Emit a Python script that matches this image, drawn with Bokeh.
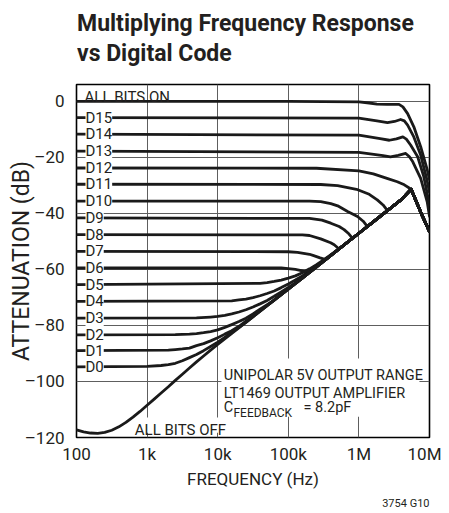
from bokeh.plotting import figure
from bokeh.layouts import column
from bokeh.models import Label, FixedTicker, Range1d, Title
from bokeh.embed import file_html
from bokeh.resources import INLINE

# ---------------- data ----------------
x_ticks = [100, 1000, 10000, 100000, 1000000, 10000000]
x_tick_labels = ["100", "1k", "10k", "100k", "1M", "10M"]
y_ticks = [-120, -100, -80, -60, -40, -20, 0]
y_tick_labels = ["–120", "–100", "–80", "–60", "–40", "–20", "0"]

# ALL BITS OFF (feedthrough)
off_freq = [100, 126, 158, 200, 251, 316, 398, 501, 631, 794, 1000, 1260, 1580, 2000, 2510,
            3160, 3980, 5010, 6310, 7940, 10000, 25100, 63100, 158000, 251000, 398000, 631000,
            1000000, 1580000, 2510000, 3980000, 5500000, 6310000, 7940000, 10000000]
off_db = [-117.3, -118.0, -118.4, -118.5, -118.2, -117.4, -116.2, -114.6, -112.7, -110.7, -108.5,
          -106.3, -104.1, -101.9, -99.6, -97.4, -95.2, -93.0, -90.9, -88.8, -86.8, -78.9, -71.0,
          -63.1, -59.1, -55.1, -51.1, -47.1, -43.1, -39.1, -35.1, -31.4, -35.0, -41.0, -46.5]

on_freq = [100, 100000, 1000000, 1400000, 1800000, 2500000, 3700000, 4200000, 4900000, 6000000, 7500000, 9300000, 10000000]
on_db = [0.0, 0.0, -0.2, -0.6, -1.0, -1.1, -1.1, -2.0, -4.4, -9.1, -16.2, -24.5, -28.0]

d15_freq = [100, 1000000, 1800000, 2540000, 3200000, 3900000, 4400000, 4900000, 6000000, 7500000, 9300000, 10000000]
d15_db = [-5.8, -6.0, -7.0, -7.6, -7.2, -6.5, -7.0, -8.5, -12.7, -19.2, -28.5, -32.5]

d14_freq = [100, 1000000, 2000000, 2700000, 3400000, 4200000, 4700000, 5400000, 6800000, 8300000, 10000000]
d14_db = [-11.7, -12.1, -13.3, -13.9, -13.4, -12.7, -13.5, -15.6, -19.8, -26.9, -37.0]

d13_freq = [100, 1000000, 2200000, 2800000, 3600000, 4600000, 5200000, 5800000, 7500000, 9300000, 10000000]
d13_db = [-17.8, -18.2, -19.4, -19.8, -19.3, -18.6, -19.8, -21.6, -27.5, -36.0, -41.0]

d12_freq = [100, 251000, 1000000, 1600000, 2500000, 3500000, 4400000, 5500000]
d12_db = [-23.8, -23.9, -24.8, -25.9, -27.5, -28.7, -29.8, -31.4]

d11_freq = [100, 288000, 500000, 923000, 1400000, 1820000, 2200000, 2540000]
d11_db = [-29.6, -29.7, -30.1, -31.4, -33.2, -35.2, -37.0, -39.0]

d10_freq = [100, 200000, 288000, 400000, 500000, 692000, 955000, 1150000, 1320000]
d10_db = [-35.6, -35.6, -35.8, -36.5, -37.3, -39.3, -41.1, -42.8, -44.7]

d9_freq = [100, 200000, 300000, 400000, 525000, 617000, 720000, 813000]
d9_db = [-41.6, -41.8, -42.4, -43.5, -44.7, -45.8, -47.3, -48.9]

d8_freq = [100, 158000, 200000, 288000, 398000, 447000, 525000]
d8_db = [-47.6, -47.7, -47.9, -49.1, -50.5, -51.2, -52.7]

d7_freq = [100, 100000, 135000, 200000, 229000, 282000, 339000]
d7_db = [-53.6, -53.7, -53.9, -54.6, -55.1, -55.9, -56.5]

d6_freq = [100, 79400, 100000, 126000, 158000, 200000]
d6_db = [-59.5, -59.5, -59.7, -60.0, -60.5, -61.1]

d5_freq = [100, 39800, 50100, 63100, 79400, 100000, 126000, 158000, 200000, 251000, 316000, 398000]
d5_db = [-65.4, -65.0, -64.7, -64.3, -63.8, -63.1, -62.3, -61.2, -59.8, -58.3, -56.6, -54.8]

d4_freq = [100, 15800, 20000, 25100, 31600, 39800, 50100, 63100, 79400, 100000, 126000, 158000, 200000, 251000]
d4_db = [-71.4, -71.2, -70.9, -70.6, -70.1, -69.4, -68.6, -67.7, -66.5, -65.2, -63.8, -62.3, -60.6, -58.9]

d3_freq = [100, 5010, 7940, 10000, 12600, 15800, 20000, 25100, 31600, 39800, 50100, 63100, 79400, 100000, 126000]
d3_db = [-77.4, -77.3, -77.0, -76.8, -76.4, -75.9, -75.2, -74.4, -73.4, -72.3, -71.1, -69.6, -68.0, -66.4, -64.8]

d2_freq = [100, 2510, 3980, 5010, 6310, 7940, 10000, 12600, 15800, 20000, 25100, 31600, 39800, 50100]
d2_db = [-83.4, -83.3, -83.1, -82.9, -82.6, -82.2, -81.6, -80.7, -79.7, -78.6, -77.4, -75.9, -74.2, -72.6]

d1_freq = [100, 2000, 2510, 3160, 3980, 5010, 6310, 7940, 10000, 12600, 15800, 20000, 25100, 31600]
d1_db = [-89.0, -88.8, -88.6, -88.4, -88.1, -87.2, -86.5, -85.5, -84.4, -83.1, -81.9, -80.3, -78.5, -76.7]

d0_freq = [100, 1000, 1580, 2000, 2510, 3160, 3980, 5010, 6310, 7940, 10000, 12600, 15800]
d0_db = [-94.8, -94.6, -94.3, -94.0, -93.5, -92.6, -91.5, -90.4, -89.0, -87.5, -86.0, -84.3, -82.5]

code_names = ["D15", "D14", "D13", "D12", "D11", "D10", "D9", "D8",
              "D7", "D6", "D5", "D4", "D3", "D2", "D1", "D0"]
code_levels = [-5.8, -11.7, -17.8, -23.8, -29.6, -35.6, -41.6, -47.6,
               -53.6, -59.5, -65.4, -71.4, -77.4, -83.4, -89.0, -94.8]

title_lines = ["Multiplying Frequency Response", "vs Digital Code"]

# ---------------- styling ----------------
TXT = "#231f20"
LINE = "#1a1a1a"
FONT = "Roboto"


def with_tail(f, d):
    """curve points followed by the ALL BITS OFF points it merges into"""
    ff, dd = list(f), list(d)
    for x, y in zip(off_freq, off_db):
        if x > ff[-1]:
            ff.append(x)
            dd.append(y)
    return ff, dd


# ---- title strip (its frame is aligned with the chart frame: 76..429 px) ----
t = figure(width=441, height=76, x_range=Range1d(76, 429), y_range=Range1d(76, 0),
           output_backend="svg", toolbar_location=None, title=None,
           x_axis_location=None, y_axis_location=None,
           min_border_left=0, min_border_right=0, min_border_top=0, min_border_bottom=0)
t.outline_line_color = None
t.xgrid.visible = False
t.ygrid.visible = False
for i, line in enumerate(title_lines):
    t.add_layout(Label(x=76.5, y=23.0 + 29.5 * i, text=line, text_font=FONT,
                       text_font_style="bold", text_font_size="23px", text_color=TXT,
                       text_baseline="alphabetic"))

# ---- main chart ----
p = figure(width=441, height=437, x_axis_type="log", title=None,
           x_range=Range1d(100, 1e7), y_range=Range1d(-120, 6),
           output_backend="svg", toolbar_location=None,
           min_border_left=76, min_border_right=12,
           min_border_top=8, min_border_bottom=76)
p.background_fill_color = "white"
p.border_fill_color = "white"
p.outline_line_color = "black"
p.outline_line_width = 1.6

# axes
p.xaxis.ticker = FixedTicker(ticks=x_ticks)
p.xaxis.major_label_overrides = dict(zip(x_ticks, x_tick_labels))
p.yaxis.ticker = FixedTicker(ticks=y_ticks)
p.yaxis.major_label_overrides = dict(zip(y_ticks, y_tick_labels))
for ax in (p.xaxis[0], p.yaxis[0]):
    ax.axis_line_color = None
    ax.major_tick_line_color = None
    ax.minor_tick_line_color = None
    ax.major_tick_out = 0
    ax.major_tick_in = 0
    ax.minor_tick_out = 0
    ax.minor_tick_in = 0
    ax.major_label_text_font = FONT
    ax.major_label_text_font_size = "17px"
    ax.major_label_text_color = TXT
    ax.axis_label_text_font = FONT
    ax.axis_label_text_font_style = "normal"
    ax.axis_label_text_color = TXT
p.yaxis.major_label_standoff = 12
p.xaxis.major_label_standoff = 6
p.xaxis.axis_label = "FREQUENCY (Hz)"
p.xaxis.axis_label_text_font_size = "17px"
p.xaxis.axis_label_standoff = 2
p.yaxis.axis_label = "ATTENUATION (dB)"
p.yaxis.axis_label_text_font_size = "23px"
p.yaxis.axis_label_standoff = -13

p.xgrid.ticker = FixedTicker(ticks=x_ticks)
p.ygrid.ticker = FixedTicker(ticks=y_ticks)
for g in (p.xgrid[0], p.ygrid[0]):
    g.grid_line_color = "#5e5e5e"
    g.grid_line_width = 1
    g.minor_grid_line_color = None

# white boxes behind the notes (hide grid)
p.quad(left=[11300, 640], right=[7200000, 11700], top=[-91.8, -112.9], bottom=[-112.6, -118.3],
       fill_color="white", line_color=None)

# curves
curves = [(on_freq, on_db, False), (d15_freq, d15_db, False), (d14_freq, d14_db, False),
          (d13_freq, d13_db, False), (d12_freq, d12_db, True), (d11_freq, d11_db, True),
          (d10_freq, d10_db, True), (d9_freq, d9_db, True), (d8_freq, d8_db, True),
          (d7_freq, d7_db, True), (d6_freq, d6_db, True), (d5_freq, d5_db, True),
          (d4_freq, d4_db, True), (d3_freq, d3_db, True), (d2_freq, d2_db, True),
          (d1_freq, d1_db, True), (d0_freq, d0_db, True)]
for f, d, tail in curves:
    ff, dd = with_tail(f, d) if tail else (f, d)
    p.line(ff, dd, line_width=2.8, line_color=LINE, line_join="round", line_cap="round")
p.line(off_freq, off_db, line_width=2.8, line_color=LINE, line_join="round", line_cap="round")

# curve labels
for name, lvl in zip(code_names, code_levels):
    p.add_layout(Label(x=134, y=lvl, text=name, text_font=FONT, text_font_size="15px",
                       text_color=TXT, text_baseline="middle", text_align="left",
                       background_fill_color="white"))

p.add_layout(Label(x=130, y=1.4, text="ALL BITS ON", text_font=FONT, text_font_size="15px",
                   text_color=TXT, text_baseline="alphabetic"))
p.add_layout(Label(x=670, y=-117.5, text="ALL BITS OFF", text_font=FONT, text_font_size="15px",
                   text_color=TXT, text_baseline="alphabetic"))

# notes box
NOTE = "14.5px"
p.add_layout(Label(x=12200, y=-97.9, text="UNIPOLAR 5V OUTPUT RANGE", text_font=FONT,
                   text_font_size=NOTE, text_color=TXT, text_baseline="alphabetic"))
p.add_layout(Label(x=12200, y=-104.4, text="LT1469 OUTPUT AMPLIFIER", text_font=FONT,
                   text_font_size=NOTE, text_color=TXT, text_baseline="alphabetic"))
p.add_layout(Label(x=12200, y=-109.3, text="C", text_font=FONT,
                   text_font_size=NOTE, text_color=TXT, text_baseline="alphabetic"))
p.add_layout(Label(x=16700, y=-111.4, text="FEEDBACK", text_font=FONT,
                   text_font_size="12px", text_color=TXT, text_baseline="alphabetic"))
p.add_layout(Label(x=164000, y=-109.3, text="= 8.2pF", text_font=FONT,
                   text_font_size=NOTE, text_color=TXT, text_baseline="alphabetic"))

p.add_layout(Title(text="3754 G10", align="right", standoff=6,
                   text_font=FONT, text_font_style="normal", text_font_size="11px",
                   text_color=TXT), "below")

page = column(t, p, spacing=0)
open("out.html", "w").write(file_html(page, INLINE))
